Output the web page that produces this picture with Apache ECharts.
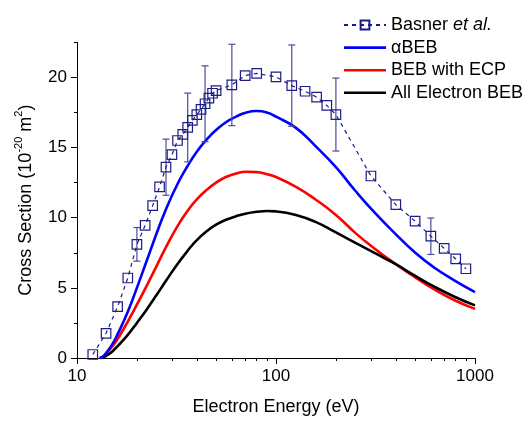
<!DOCTYPE html>
<html>
<head>
<meta charset="utf-8">
<script src="https://cdn.jsdelivr.net/npm/echarts@6/dist/echarts.min.js"></script>
<style>
html,body{margin:0;padding:0;background:#fff;}
#c{width:525px;height:421px;}
</style>
</head>
<body>
<div id="c"></div>
<script>
// ---- Data ----
// Basner et al. measurements: energy (eV), cross section (1e-20 m^2)
const basnerE = [12, 14, 16, 18, 20, 22, 24, 26, 28, 30, 32, 34, 36, 38, 40, 42, 44, 46, 48, 50, 60, 70, 80, 100, 120, 140, 160, 180, 200, 300, 400, 500, 600, 700, 800, 900];
const basnerY = [0.25, 1.76, 3.66, 5.70, 8.1, 9.45, 10.86, 12.19, 13.6, 14.49, 15.5, 15.94, 16.43, 16.93, 17.35, 17.72, 18.12, 18.52, 18.87, 19.06, 19.46, 20.13, 20.28, 20.04, 19.41, 19.01, 18.59, 18.0, 17.35, 12.97, 10.93, 9.75, 8.68, 7.81, 7.06, 6.36];
// error bars (energy, half-width)
const errE = [20, 28, 36, 44, 60, 120, 200, 600];
const errHalf = [1.2, 2.0, 2.45, 2.7, 2.9, 2.9, 2.6, 1.3];

// Theory curves
const curveE = [13, 13.5, 14, 15, 16, 18, 20, 22.5, 25, 28, 32, 36, 40, 45, 50, 56, 63, 71, 80, 90, 100, 126, 158, 200, 251, 316, 398, 501, 631, 794, 1000];
const alphaBEB = [0, 0.1, 0.35, 0.95, 1.7, 3.3, 5.0, 7.0, 8.8, 10.6, 12.4, 13.7, 14.7, 15.6, 16.25, 16.8, 17.2, 17.5, 17.6, 17.5, 17.2, 16.4, 15.1, 13.6, 11.9, 10.3, 8.85, 7.5, 6.4, 5.5, 4.7];
const bebECP = [0, 0.08, 0.3, 0.8, 1.35, 2.6, 3.8, 5.2, 6.5, 7.9, 9.4, 10.5, 11.3, 12.0, 12.5, 12.9, 13.15, 13.27, 13.25, 13.1, 12.9, 12.2, 11.3, 10.2, 8.9, 7.75, 6.7, 5.75, 4.85, 4.1, 3.5];
const allElecBEB = [0, 0.04, 0.15, 0.45, 0.85, 1.65, 2.5, 3.5, 4.45, 5.5, 6.7, 7.65, 8.4, 9.05, 9.5, 9.85, 10.1, 10.3, 10.42, 10.48, 10.45, 10.2, 9.7, 8.95, 8.2, 7.45, 6.7, 5.85, 5.05, 4.35, 3.75];

// Axis ticks
const xMajorTicks = [10, 100, 1000];
const xMinorTicks = [20, 30, 40, 50, 60, 70, 80, 90, 200, 300, 400, 500, 600, 700, 800, 900];
const yMajorTicks = [0, 5, 10, 15, 20];
const yMinorTicks = [2.5, 7.5, 12.5, 17.5, 22.5];

const seriesNames = ['Basner et al.', '\u03B1BEB', 'BEB with ECP', 'All Electron BEB'];

// ---- Build ----
const zip = (a, b) => a.map((v, i) => [v, b[i]]);
const errData = errE.map((e, i) => [e, basnerY[basnerE.indexOf(e)], errHalf[i]]);

const FONT = 'Liberation Sans, Arial, sans-serif';
const NAVY = '#1c1c86';
const ERRC = '#4b4b9c';
const LINE_ICON = 'path://M0,0H42V2.6H0Z';

const chart = echarts.init(document.getElementById('c'), null, {renderer: 'canvas'});
chart.setOption({
  animation: false,
  backgroundColor: '#fff',
  grid: {left: 77, right: 50, top: 42.3, bottom: 58.3, containLabel: false},
  legend: {
    data: [
      {name: seriesNames[0]},
      {name: seriesNames[1], icon: LINE_ICON},
      {name: seriesNames[2], icon: LINE_ICON},
      {name: seriesNames[3], icon: LINE_ICON}
    ],
    orient: 'vertical',
    left: 343,
    top: 16,
    padding: 0,
    itemWidth: 42,
    itemHeight: 11,
    itemGap: 4.6,
    textStyle: {
      fontFamily: FONT, fontSize: 18, color: '#000', lineHeight: 18,
      rich: {
        n: {fontFamily: FONT, fontSize: 18, color: '#000'},
        i: {fontFamily: FONT, fontSize: 18, color: '#000', fontStyle: 'italic'}
      }
    },
    formatter: function (name) {
      if (name === 'Basner et al.') return '{n|Basner }{i|et al.}';
      return name;
    }
  },
  xAxis: [{
    type: 'log', logBase: 10, min: 10, max: 1000,
    name: 'Electron Energy (eV)', nameLocation: 'middle', nameGap: 40,
    nameTextStyle: {fontFamily: FONT, fontSize: 18, color: '#000'},
    axisLine: {show: true, onZero: false, lineStyle: {color: '#000', width: 1}},
    axisTick: {show: true, inside: false, length: 6, customValues: xMajorTicks, lineStyle: {color: '#000', width: 1}},
    axisLabel: {show: true, customValues: xMajorTicks, margin: 10, fontFamily: FONT, fontSize: 17, color: '#000',
      formatter: function (v) { return String(Math.round(v)); }},
    splitLine: {show: false}
  }, {
    type: 'log', logBase: 10, min: 10, max: 1000, position: 'bottom',
    axisLine: {show: false},
    axisTick: {show: true, inside: false, length: 3, customValues: xMinorTicks, lineStyle: {color: '#000', width: 1}},
    axisLabel: {show: false},
    splitLine: {show: false}
  }],
  yAxis: [{
    type: 'value', min: 0, max: 22.5,
    name: '{a|Cross Section (10}{s|-20}{a| m}{s|2}{a|)}',
    nameLocation: 'middle', nameGap: 42, nameRotate: 90,
    nameTextStyle: {
      fontFamily: FONT, color: '#000',
      rich: {
        a: {fontFamily: FONT, fontSize: 18, color: '#000', lineHeight: 22, verticalAlign: 'bottom'},
        s: {fontFamily: FONT, fontSize: 11, color: '#000', lineHeight: 22, verticalAlign: 'top'}
      }
    },
    axisLine: {show: true, onZero: false, lineStyle: {color: '#000', width: 1}},
    axisTick: {show: true, inside: false, length: 6, customValues: yMajorTicks, lineStyle: {color: '#000', width: 1}},
    axisLabel: {show: true, customValues: yMajorTicks, margin: 10, fontFamily: FONT, fontSize: 17, color: '#000'},
    splitLine: {show: false}
  }, {
    type: 'value', min: 0, max: 22.5, position: 'left',
    axisLine: {show: false},
    axisTick: {show: true, inside: false, length: 3, customValues: yMinorTicks, lineStyle: {color: '#000', width: 1}},
    axisLabel: {show: false},
    splitLine: {show: false}
  }],
  series: [
    {
      name: 'BEB with ECP', type: 'line', data: zip(curveE, bebECP),
      showSymbol: false, symbol: 'none', smooth: 0.5, z: 2,
      lineStyle: {color: '#ff0000', width: 2.6}, itemStyle: {color: '#ff0000'}
    },
    {
      name: 'All Electron BEB', type: 'line', data: zip(curveE, allElecBEB),
      showSymbol: false, symbol: 'none', smooth: 0.5, z: 3,
      lineStyle: {color: '#000', width: 2.6}, itemStyle: {color: '#000'}
    },
    {
      name: '\u03B1BEB', type: 'line', data: zip(curveE, alphaBEB),
      showSymbol: false, symbol: 'none', smooth: 0.5, z: 4,
      lineStyle: {color: '#0000ff', width: 2.6}, itemStyle: {color: '#0000ff'}
    },
    {
      name: 'errors', type: 'custom', data: errData, z: 5,
      encode: {x: 0, y: 1},
      renderItem: function (params, api) {
        const x = api.value(0), y = api.value(1), e = api.value(2);
        const t = api.coord([x, y + e]);
        const b = api.coord([x, y - e]);
        const w = 3.5;
        const st = {stroke: ERRC, lineWidth: 1.2, fill: 'none'};
        return {type: 'group', children: [
          {type: 'line', shape: {x1: t[0], y1: t[1], x2: b[0], y2: b[1]}, style: st},
          {type: 'line', shape: {x1: t[0] - w, y1: t[1], x2: t[0] + w, y2: t[1]}, style: st},
          {type: 'line', shape: {x1: b[0] - w, y1: b[1], x2: b[0] + w, y2: b[1]}, style: st}
        ]};
      }
    },
    {
      name: 'Basner et al.', type: 'line', data: zip(basnerE, basnerY), z: 6,
      symbol: 'rect', symbolSize: 9.5, showSymbol: true,
      lineStyle: {color: NAVY, width: 1.2, type: [4, 4]},
      itemStyle: {color: 'rgba(255,255,255,0)', borderColor: NAVY, borderWidth: 1.2}
    }
  ]
});
</script>
</body>
</html>
